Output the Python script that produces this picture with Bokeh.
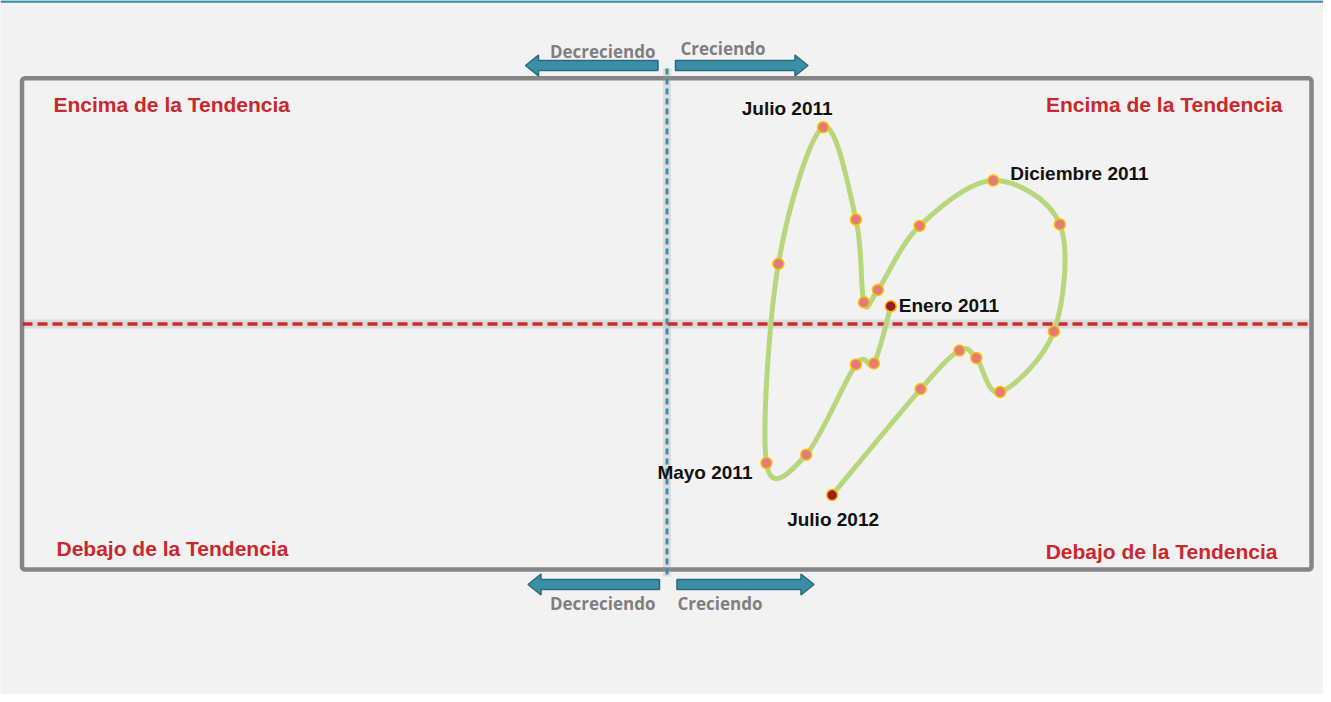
from bokeh.plotting import figure
from bokeh.models import Range1d
from bokeh.core.properties import value
from bokeh.embed import file_html
from bokeh.resources import INLINE

# ---- data (x: crecimiento, y: posición respecto a la tendencia) ----
months = ["Enero 2011", "Febrero 2011", "Marzo 2011", "Abril 2011", "Mayo 2011", "Junio 2011",
          "Julio 2011", "Agosto 2011", "Septiembre 2011", "Octubre 2011", "Noviembre 2011",
          "Diciembre 2011", "Enero 2012", "Febrero 2012", "Marzo 2012", "Abril 2012",
          "Mayo 2012", "Junio 2012", "Julio 2012"]
growth = [2.25, 2.08, 1.90, 1.40, 1.00, 1.12, 1.57, 1.90, 1.98, 2.12, 2.54, 3.28, 3.95,
          3.89, 3.35, 3.11, 2.94, 2.55, 1.66]
trend = [0.36, -0.80, -0.82, -2.65, -2.82, 1.22, 3.99, 2.12, 0.44, 0.69, 1.99, 2.91, 2.02,
         -0.15, -1.38, -0.69, -0.54, -1.32, -3.47]
labelled = ["Enero 2011", "Mayo 2011", "Julio 2011", "Diciembre 2011", "Julio 2012"]
quadrant_labels = ["Encima de la Tendencia", "Encima de la Tendencia",
                   "Debajo de la Tendencia", "Debajo de la Tendencia"]

W, H = 1323, 694
SX, SY = 99.46, 49.3          # px per unit
X0PX, Y0PX = 666.5, 323.5     # page px of origin


def px_x(px):
    return (px - X0PX) / SX


def px_y(py):
    return (Y0PX - py) / SY


XMIN, XMAX = px_x(0), px_x(W)
YMAX, YMIN = px_y(0), px_y(H)

p = figure(width=W, height=H, x_range=Range1d(XMIN, XMAX), y_range=Range1d(YMIN, YMAX),
           output_backend="svg", toolbar_location=None, min_border=0,
           x_axis_type=None, y_axis_type=None,
           background_fill_color="#f2f2f2", border_fill_color="#f2f2f2",
           outline_line_color=None)
p.grid.visible = False

# top thin teal rule
p.segment(x0=[XMIN], y0=[px_y(1)], x1=[XMAX], y1=[px_y(1)], line_color="#3a8ea6", line_width=2.5)

# frame box
p.quad(left=[px_x(21.5)], right=[px_x(1311)], top=[px_y(77.7)], bottom=[px_y(569)],
       fill_alpha=0, line_color="#858585", line_width=4.5, border_radius=3)

# shadows of reference lines
p.segment(x0=[px_x(22)], y0=[0], x1=[px_x(1310)], y1=[0], line_color="#9a9a9a",
          line_alpha=0.25, line_width=9)
p.segment(x0=[0], y0=[px_y(68)], x1=[0], y1=[px_y(576)], line_color="#9a9a9a",
          line_alpha=0.25, line_width=8)
# reference lines
p.segment(x0=[px_x(22)], y0=[0], x1=[px_x(1310)], y1=[0], line_color="#cc2b2e",
          line_width=3.5, line_dash="10 5")
p.segment(x0=[0], y0=[px_y(68)], x1=[0], y1=[px_y(576)], line_color="#3a8ea6",
          line_width=3, line_dash="6 4")


# arrows
def arrow(tail, tip, yc, bar_h=10, head_h=21, head_len=13):
    d = 1 if tip > tail else -1
    base = tip - d * head_len
    xs = [tail, base, base, tip, base, base, tail]
    ys = [yc - bar_h / 2, yc - bar_h / 2, yc - head_h / 2, yc, yc + head_h / 2, yc + bar_h / 2,
          yc + bar_h / 2]
    return [px_x(v) for v in xs], [px_y(v) for v in ys]


arrows = [arrow(657.5, 525, 65), arrow(675, 807.5, 65), arrow(659, 527.5, 584),
          arrow(676.5, 813.5, 584)]
p.patches(xs=[a[0] for a in arrows], ys=[a[1] for a in arrows], fill_color="#3a8fa7",
          line_color="#2a6a7e", line_width=1.5)

p.text(x=[px_x(655), px_x(680), px_x(655), px_x(677)],
       y=[px_y(51), px_y(48), px_y(603), px_y(603)],
       text=["Decreciendo", "Creciendo", "Decreciendo", "Creciendo"],
       text_align=["right", "left", "right", "left"], text_baseline="middle",
       text_font=value("Open Sans"), text_font_style="bold", text_font_size="17px",
       text_color="#7f7f7f")

# quadrant labels
p.text(x=[px_x(53), px_x(1282), px_x(56), px_x(1277)],
       y=[px_y(104), px_y(104), px_y(548), px_y(551)],
       text=quadrant_labels, text_align=["left", "right", "left", "right"],
       text_baseline="middle", text_font=value("Liberation Sans"), text_font_style="bold",
       text_font_size="21px", text_color="#c9282d")

# smoothed line (Catmull-Rom Bezier through data points)
n = len(growth)
x0s, y0s, x1s, y1s, cx0, cy0, cx1, cy1 = [], [], [], [], [], [], [], []
for i in range(n - 1):
    a = max(i - 1, 0)
    b = min(i + 2, n - 1)
    x0s.append(growth[i]); y0s.append(trend[i])
    x1s.append(growth[i + 1]); y1s.append(trend[i + 1])
    cx0.append(growth[i] + (growth[i + 1] - growth[a]) / 6)
    cy0.append(trend[i] + (trend[i + 1] - trend[a]) / 6)
    cx1.append(growth[i + 1] - (growth[b] - growth[i]) / 6)
    cy1.append(trend[i + 1] - (trend[b] - trend[i]) / 6)
p.bezier(x0=x0s, y0=y0s, x1=x1s, y1=y1s, cx0=cx0, cy0=cy0, cx1=cx1, cy1=cy1,
         line_color="#b7d77c", line_width=5, line_cap="round")

fills = ["#9b1d1d" if i in (0, n - 1) else "#e27c7c" for i in range(n)]
p.scatter(x=growth, y=trend, size=11, fill_color=fills, line_color="#ffc000", line_width=1.5)

# month labels
idx = [months.index(m) for m in labelled]
lx = {"Enero 2011": (8, 1, "left"), "Mayo 2011": (-14, -9, "right"),
      "Julio 2011": (-36, 19, "center"), "Diciembre 2011": (17, 7, "left"),
      "Julio 2012": (1, -24, "center")}
p.text(x=[growth[i] + lx[months[i]][0] / SX for i in idx],
       y=[trend[i] + lx[months[i]][1] / SY for i in idx],
       text=[months[i] for i in idx], text_align=[lx[months[i]][2] for i in idx],
       text_baseline="middle", text_font=value("Liberation Sans"), text_font_style="bold",
       text_font_size="19px", text_color="#111111")

open("out.html", "w").write(file_html(p, INLINE))
